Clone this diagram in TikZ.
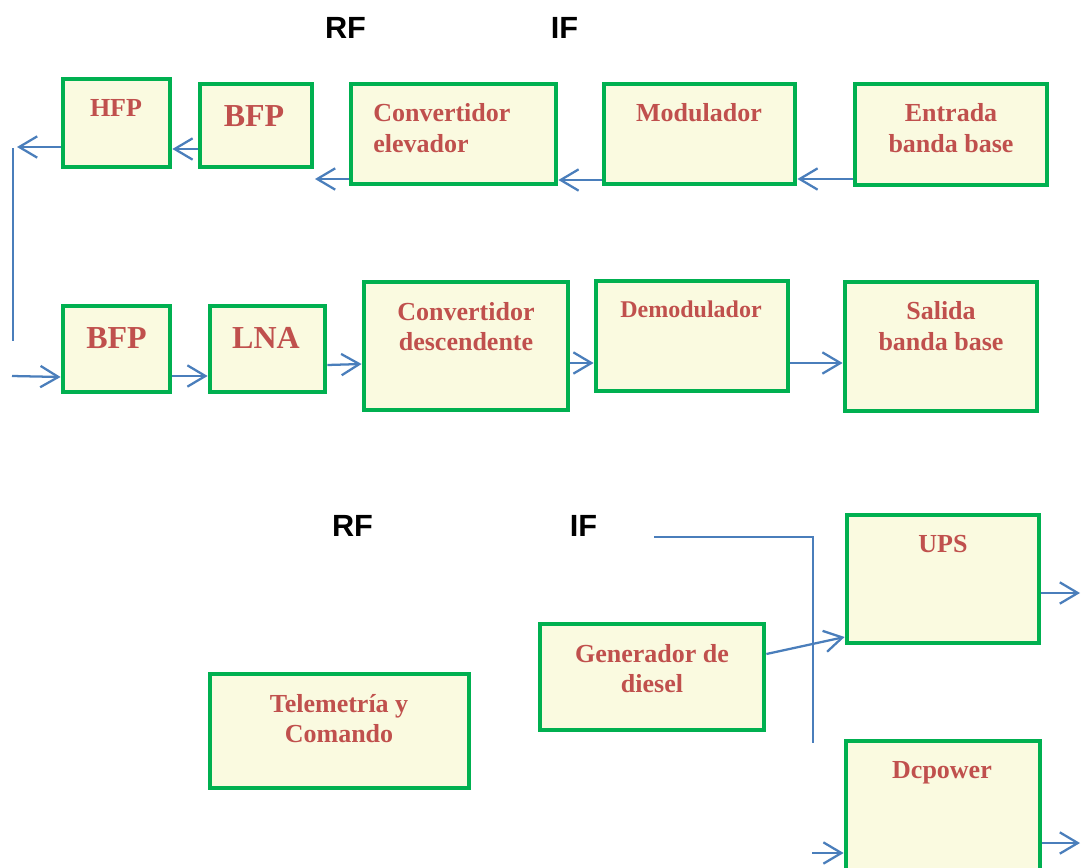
\documentclass[tikz,border=0pt]{standalone}
\usepackage{fontspec}
\setmainfont{Liberation Serif}
\newfontfamily\arialf{Liberation Sans}
\usetikzlibrary{arrows.meta,fit}
\definecolor{boxgreen}{HTML}{00B050}
\definecolor{boxfill}{HTML}{FAFAE0}
\definecolor{txtred}{HTML}{C0504D}
\definecolor{lineblue}{HTML}{4A7EBB}
\tikzset{
  blk/.style={draw=boxgreen, line width=3.6pt, fill=boxfill, inner sep=0pt, rectangle},
  lbl/.style={text=txtred, font=\bfseries\fontsize{19.5}{22.5}\selectfont, inner sep=0pt, anchor=base},
  biglbl/.style={lbl, font=\bfseries\fontsize{24}{27}\selectfont},
  smalllbl/.style={lbl, font=\bfseries\fontsize{18}{21}\selectfont},
  band/.style={text=black, font=\arialf\bfseries\fontsize{23}{26}\selectfont, inner sep=0pt, anchor=base},
  arr/.style={draw=lineblue, line width=1.7pt, -{Straight Barb[length=13.5pt,width=16pt]}},
  wire/.style={draw=lineblue, line width=1.2pt}
}
\begin{document}
\begin{tikzpicture}[x=0.75pt,y=-0.75pt]
\path[use as bounding box] (0,0) rectangle (1081,867);
\clip (0,0) rectangle (1081,867);

% band labels
\node[band] (rf1) at (345.5,39) {RF};
\node[band] (if1) at (564.5,39) {IF};
\node[band] (rf2) at (352.5,536) {RF};
\node[band] (if2) at (583.5,536) {IF};

% top row boxes
\node[blk, fit={(63,79)(170,167)}] (hfp) {};
\node[blk, fit={(200,84)(312,167)}] (bfpT) {};
\node[blk, fit={(351,84)(556,184)}] (convE) {};
\node[blk, fit={(604,84)(795,184)}] (mod) {};
\node[blk, fit={(855,84)(1047,185)}] (ent) {};

\node[lbl] (hfp-t) at (116,116) {HFP};
\node[biglbl] (bfpT-t) at (254,127) {BFP};
\node[lbl, anchor=base west] (convE-t1) at (373,121) {Convertidor};
\node[lbl, anchor=base west] (convE-t2) at (373,152) {elevador};
\node[lbl] (mod-t) at (699,121) {Modulador};
\node[lbl] (ent-t1) at (951,122) {Entrada};
\node[lbl] (ent-t2) at (951,152) {banda base};

% bottom row boxes
\node[blk, fit={(63,306)(170,392)}] (bfpB) {};
\node[blk, fit={(210,306)(325,392)}] (lna) {};
\node[blk, fit={(364,282)(568,410)}] (convD) {};
\node[blk, fit={(596,281)(788,391)}] (demod) {};
\node[blk, fit={(845,282)(1037,411)}] (sal) {};

\node[biglbl] (bfpB-t) at (116.5,348) {BFP};
\node[biglbl] (lna-t) at (266,348) {LNA};
\node[lbl] (convD-t1) at (466,320) {Convertidor};
\node[lbl] (convD-t2) at (466,350) {descendente};
\node[smalllbl] (demod-t) at (691,317) {Demodulador};
\node[lbl] (sal-t1) at (941,319) {Salida};
\node[lbl] (sal-t2) at (941,350) {banda base};

% lower section boxes
\node[blk, fit={(210,674)(469,788)}] (tel) {};
\node[blk, fit={(540,624)(764,730)}] (gen) {};
\node[blk, fit={(847,515)(1039,643)}] (ups) {};
\node[blk, fit={(846,741)(1040,885)}] (dc) {};

\node[lbl] (tel-t1) at (339,712) {Telemetría y};
\node[lbl] (tel-t2) at (339,742) {Comando};
\node[lbl] (gen-t1) at (652,662) {Generador de};
\node[lbl] (gen-t2) at (652,692) {diesel};
\node[lbl] (ups-t) at (943,552) {UPS};
\node[lbl] (dc-t) at (942,778) {Dcpower};

% free ends
\coordinate (c1) at (315,179);
\coordinate (c2) at (17,147);
\coordinate (v1) at (13,148);
\coordinate (v2) at (13,341);
\coordinate (c3) at (12,376);
\coordinate (i1) at (654,537);
\coordinate (i2) at (813,743);
\coordinate (u1) at (1080,593);
\coordinate (d1) at (812,853);
\coordinate (d2) at (1080,843);

% top row connectors
\draw[arr] (ent.west |- 0,179) -- (mod.east |- 0,179);
\draw[arr] (mod.west |- 0,180) -- (convE.east |- 0,180);
\draw[arr] (convE.west |- 0,179) -- (c1);
\draw[arr] (bfpT.west |- 0,149) -- (hfp.east |- 0,149);
\draw[arr] (hfp.west |- 0,147) -- (c2);
\draw[wire] (v1) -- (v2);

% bottom row connectors
\draw[arr] (c3) -- (bfpB.west |- 0,377);
\draw[arr] (bfpB.east |- 0,376) -- (lna.west |- 0,376);
\draw[arr] (lna.east |- 0,365) -- (convD.west |- 0,364);
\draw[arr] (convD.east |- 0,363) -- (demod.west |- 0,363);
\draw[arr] (demod.east |- 0,363) -- (sal.west |- 0,363);

% lower section connectors
\draw[wire] (i1) -| (i2);
\draw[arr] (gen.east |- 0,654) -- (ups.west |- 0,637);
\draw[arr] (ups.east |- 0,593) -- (u1);
\draw[arr] (d1) -- (dc.west |- 0,853);
\draw[arr] (dc.east |- 0,843) -- (d2);
\end{tikzpicture}
\end{document}
